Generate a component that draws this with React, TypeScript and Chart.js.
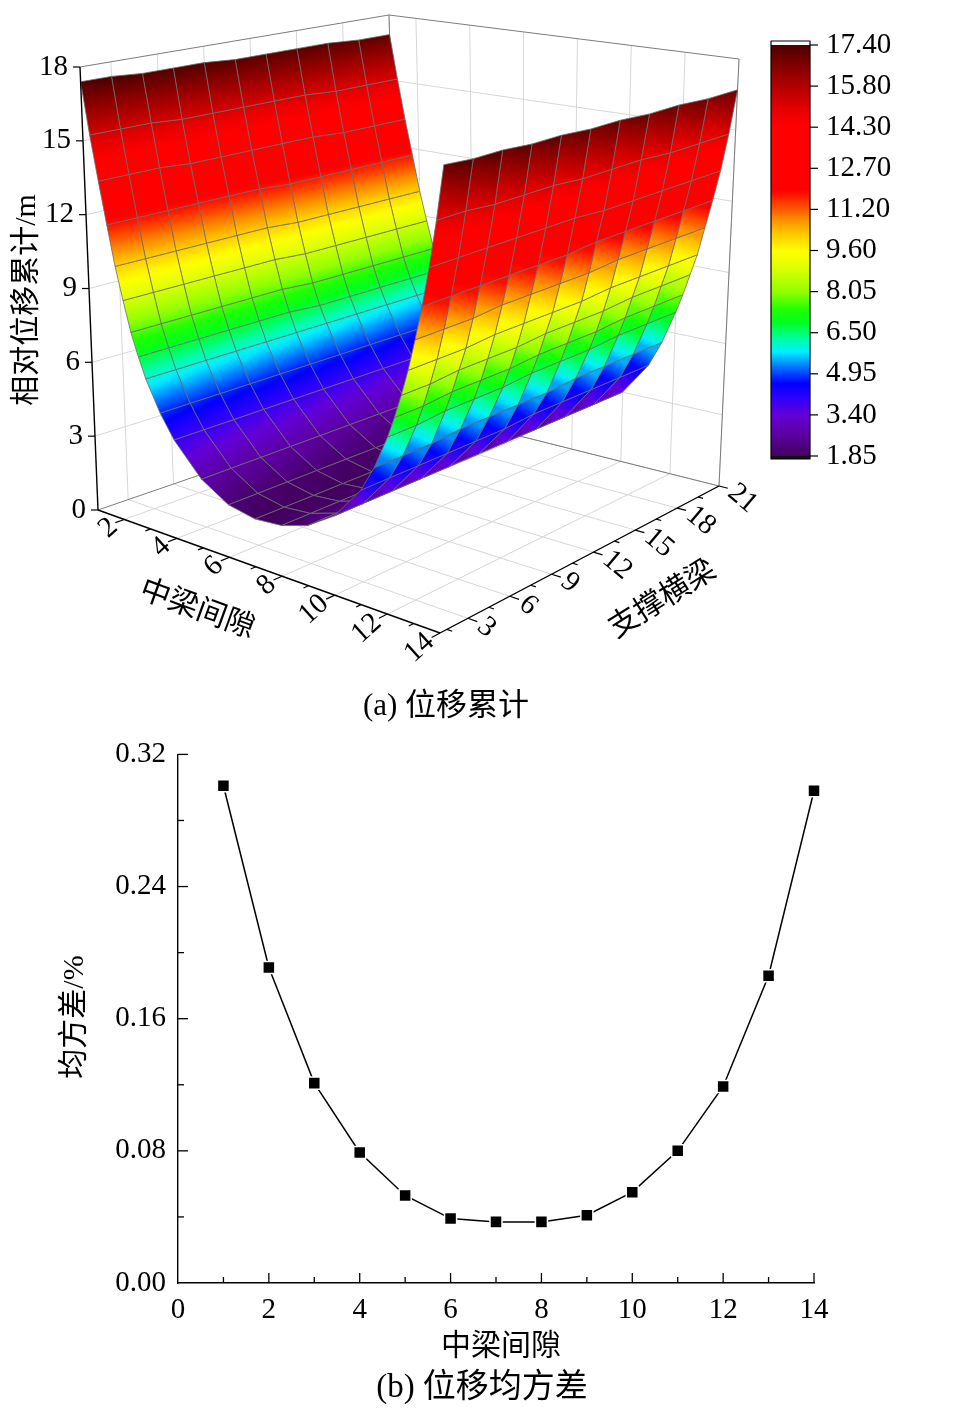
'use client';

import { useEffect, useRef } from 'react';
import Chart from 'chart.js/auto';

document.body.style.margin = '0';

const SERIF = '"Liberation Serif", "Noto Sans CJK SC", serif';
Chart.defaults.font.family = SERIF;
Chart.defaults.color = '#000';

type Pt = [number, number];

// ---------- (a) 位移累计 : surface ----------
const surfaceGaps = [
  1, 1.25, 1.5, 1.75, 2, 2.25, 2.5, 2.75, 3, 3.5, 4, 5, 6, 7, 8, 9, 10, 11, 11.5, 12, 12.25, 12.5, 12.75, 13, 13.25,
  13.5, 13.75, 14,
];
const surfaceBeams = [1, 3, 5, 7, 9, 11, 13, 15, 17, 19, 21];
// one row per beam (surfaceBeams), one value per gap (surfaceGaps)
const displacement = [
  [17.4, 15.3, 13.5, 11.8, 10.2, 8.9, 7.7, 6.8, 6.0, 4.8, 3.9, 2.7, 2.05, 1.85, 1.95, 2.3, 3.0, 4.3, 5.3, 6.6, 7.4, 8.3, 9.3, 10.5, 11.8, 13.3, 15.1, 17.2],
  [17.4, 15.3, 13.5, 11.8, 10.2, 8.9, 7.7, 6.8, 6.0, 4.8, 3.9, 2.7, 2.05, 1.85, 1.95, 2.3, 3.0, 4.3, 5.3, 6.6, 7.4, 8.3, 9.3, 10.5, 11.8, 13.3, 15.1, 17.1],
  [17.3, 15.3, 13.5, 11.8, 10.2, 8.9, 7.7, 6.8, 6.0, 4.8, 3.9, 2.7, 2.05, 1.85, 1.95, 2.3, 3.0, 4.3, 5.3, 6.7, 7.5, 8.4, 9.3, 10.5, 11.8, 13.3, 15.0, 17.1],
  [17.3, 15.2, 13.4, 11.8, 10.2, 8.9, 7.7, 6.8, 6.0, 4.8, 3.9, 2.7, 2.05, 1.85, 1.95, 2.3, 3.0, 4.3, 5.4, 6.7, 7.5, 8.4, 9.4, 10.6, 11.8, 13.3, 15.0, 17.0],
  [17.3, 15.2, 13.4, 11.8, 10.2, 8.9, 7.7, 6.8, 6.0, 4.8, 3.9, 2.7, 2.05, 1.85, 1.95, 2.3, 3.0, 4.3, 5.4, 6.7, 7.5, 8.4, 9.4, 10.6, 11.8, 13.3, 15.0, 17.0],
  [17.2, 15.2, 13.4, 11.8, 10.2, 8.9, 7.7, 6.8, 6.0, 4.8, 3.9, 2.7, 2.05, 1.85, 1.95, 2.3, 3.0, 4.3, 5.4, 6.8, 7.6, 8.5, 9.4, 10.6, 11.8, 13.3, 14.9, 16.9],
  [17.2, 15.2, 13.4, 11.7, 10.1, 8.8, 7.6, 6.7, 6.0, 4.8, 3.9, 2.7, 2.05, 1.85, 1.95, 2.3, 3.0, 4.4, 5.4, 6.8, 7.6, 8.5, 9.4, 10.6, 11.9, 13.2, 14.9, 16.9],
  [17.2, 15.2, 13.4, 11.7, 10.1, 8.8, 7.6, 6.7, 6.0, 4.8, 3.9, 2.7, 2.05, 1.85, 1.95, 2.3, 3.0, 4.4, 5.5, 6.8, 7.6, 8.5, 9.5, 10.7, 11.9, 13.2, 14.9, 16.8],
  [17.2, 15.1, 13.3, 11.7, 10.1, 8.8, 7.6, 6.7, 6.0, 4.8, 3.9, 2.7, 2.05, 1.85, 1.95, 2.3, 3.0, 4.4, 5.5, 6.9, 7.7, 8.6, 9.5, 10.7, 11.9, 13.2, 14.8, 16.8],
  [17.1, 15.1, 13.3, 11.7, 10.1, 8.8, 7.6, 6.7, 6.0, 4.8, 3.9, 2.7, 2.05, 1.85, 1.95, 2.3, 3.0, 4.4, 5.5, 6.9, 7.7, 8.6, 9.5, 10.7, 11.9, 13.2, 14.8, 16.7],
  [17.1, 15.1, 13.3, 11.7, 10.1, 8.8, 7.6, 6.7, 6.0, 4.8, 3.9, 2.7, 2.05, 1.85, 1.95, 2.3, 3.0, 4.4, 5.5, 6.9, 7.7, 8.6, 9.5, 10.7, 11.9, 13.2, 14.8, 16.7],
];

const gapRange = [1, 14];
const beamRange = [1, 21];
const dispRange = [0, 18];
const gapTicks = [2, 4, 6, 8, 10, 12, 14];
const beamTicks = [3, 6, 9, 12, 15, 18, 21];
const dispTicks = [0, 3, 6, 9, 12, 15, 18];
const levelLabels = ['17.40', '15.80', '14.30', '12.70', '11.20', '9.60', '8.05', '6.50', '4.95', '3.40', '1.85'];

// ---------- (b) 位移均方差 ----------
const gapValues = [1, 2, 3, 4, 5, 6, 7, 8, 9, 10, 11, 12, 13, 14];
const stdValues = [0.301, 0.191, 0.121, 0.079, 0.053, 0.039, 0.037, 0.037, 0.041, 0.055, 0.08, 0.119, 0.186, 0.298];

// rainbow colour map (z, r, g, b)
const rampStops: number[][] = [
  [1.85, 66, 0, 94],
  [2.6, 90, 0, 156],
  [3.4, 100, 0, 214],
  [4.1, 42, 0, 255],
  [4.6, 0, 0, 255],
  [5.2, 0, 112, 255],
  [5.8, 0, 240, 255],
  [6.3, 0, 255, 160],
  [6.9, 0, 255, 32],
  [7.4, 32, 255, 0],
  [8.05, 144, 255, 0],
  [9.0, 224, 255, 0],
  [9.6, 255, 255, 0],
  [10.3, 255, 196, 0],
  [10.8, 255, 140, 0],
  [11.3, 255, 74, 0],
  [11.9, 255, 0, 0],
  [14.3, 255, 0, 0],
  [15.0, 228, 0, 0],
  [15.8, 180, 0, 0],
  [16.6, 130, 0, 0],
  [17.4, 76, 0, 0],
];

function rampColor(z: number) {
  const s = rampStops;
  if (z <= s[0][0]) return `rgb(${s[0][1]},${s[0][2]},${s[0][3]})`;
  for (let k = 1; k < s.length; k++) {
    if (z <= s[k][0]) {
      const t = (z - s[k - 1][0]) / (s[k][0] - s[k - 1][0]);
      const c = [1, 2, 3].map((m) => Math.round(s[k - 1][m] + (s[k][m] - s[k - 1][m]) * t));
      return `rgb(${c[0]},${c[1]},${c[2]})`;
    }
  }
  const l = s[s.length - 1];
  return `rgb(${l[1]},${l[2]},${l[3]})`;
}

// where the 3D box sits on the page: floor / top corners at
// (gap min, beam min), (gap max, beam min), (gap max, beam max), (gap min, beam max)
const floorCorners: Pt[] = [[98, 510], [440, 633], [719, 486], [400, 406]];
const topCorners: Pt[] = [[80, 67], [444, 143], [739, 59], [389, 15]];

function bilerp(c: Pt[], u: number, v: number): Pt {
  const wa = (1 - u) * (1 - v);
  const wb = u * (1 - v);
  const wc = u * v;
  const wd = (1 - u) * v;
  return [
    c[0][0] * wa + c[1][0] * wb + c[2][0] * wc + c[3][0] * wd,
    c[0][1] * wa + c[1][1] * wb + c[2][1] * wc + c[3][1] * wd,
  ];
}

function toView(gap: number, beam: number, disp: number): Pt {
  const u = (gap - gapRange[0]) / (gapRange[1] - gapRange[0]);
  const v = (beam - beamRange[0]) / (beamRange[1] - beamRange[0]);
  const w = (disp - dispRange[0]) / (dispRange[1] - dispRange[0]);
  const f = bilerp(floorCorners, u, v);
  const t = bilerp(topCorners, u, v);
  return [f[0] + (t[0] - f[0]) * w, f[1] + (t[1] - f[1]) * w];
}

const surfacePlugin = {
  id: 'surface3d',
  afterDraw(chart: any) {
    const ctx: CanvasRenderingContext2D = chart.ctx;
    const sx = chart.scales.x;
    const sy = chart.scales.y;
    const px = (p: Pt): Pt => [sx.getPixelForValue(p[0]), sy.getPixelForValue(p[1])];
    const at = (g: number, b: number, z: number) => px(toView(g, b, z));
    const seg = (a: Pt, b: Pt) => {
      ctx.beginPath();
      ctx.moveTo(a[0], a[1]);
      ctx.lineTo(b[0], b[1]);
      ctx.stroke();
    };
    const label = (s: string, p: Pt, deg: number, align: CanvasTextAlign, size: number) => {
      ctx.save();
      ctx.translate(p[0], p[1]);
      ctx.rotate((deg * Math.PI) / 180);
      ctx.font = `${size}px ${SERIF}`;
      ctx.textAlign = align;
      ctx.textBaseline = 'middle';
      ctx.fillStyle = '#000';
      ctx.fillText(s, 0, 0);
      ctx.restore();
    };
    const [g0, g1] = gapRange;
    const [b0, b1] = beamRange;
    const [z0, z1] = dispRange;

    ctx.save();

    // wall and floor grid
    ctx.strokeStyle = '#d6d6d6';
    ctx.lineWidth = 1;
    gapTicks.forEach((g) => {
      seg(at(g, b0, z0), at(g, b1, z0));
      seg(at(g, b1, z0), at(g, b1, z1));
    });
    beamTicks.forEach((b) => {
      seg(at(g0, b, z0), at(g1, b, z0));
      seg(at(g0, b, z0), at(g0, b, z1));
    });
    dispTicks.forEach((z) => {
      if (z > z0 && z < z1) {
        seg(at(g0, b0, z), at(g0, b1, z));
        seg(at(g0, b1, z), at(g1, b1, z));
      }
    });

    // back box edges
    ctx.strokeStyle = '#7c7c7c';
    seg(at(g0, b0, z1), at(g0, b1, z1));
    seg(at(g0, b1, z1), at(g1, b1, z1));
    seg(at(g0, b1, z0), at(g0, b1, z1));
    seg(at(g1, b1, z0), at(g1, b1, z1));
    seg(at(g0, b0, z0), at(g0, b1, z0));
    seg(at(g0, b1, z0), at(g1, b1, z0));

    // surface cells, far to near
    const cells: { pts: Pt[]; zs: number[]; depth: number }[] = [];
    for (let j = 0; j < surfaceBeams.length - 1; j++) {
      for (let i = 0; i < surfaceGaps.length - 1; i++) {
        const idx = [[i, j], [i + 1, j], [i + 1, j + 1], [i, j + 1]];
        const zs = idx.map(([a, b]) => displacement[b][a]);
        const pts = idx.map(([a, b]) => at(surfaceGaps[a], surfaceBeams[b], displacement[b][a]));
        const u = ((surfaceGaps[i] + surfaceGaps[i + 1]) / 2 - g0) / (g1 - g0);
        const v = ((surfaceBeams[j] + surfaceBeams[j + 1]) / 2 - b0) / (b1 - b0);
        const w = (zs.reduce((s, z) => s + z, 0) / 4 - z0) / (z1 - z0);
        cells.push({ pts, zs, depth: 0.569 * u - 0.698 * v + 0.49 * w });
      }
    }
    cells.sort((a, b) => a.depth - b.depth);
    ctx.strokeStyle = '#6b6b6b';
    ctx.lineWidth = 0.8;
    ctx.lineJoin = 'round';
    cells.forEach(({ pts, zs }) => {
      ctx.beginPath();
      ctx.moveTo(pts[0][0], pts[0][1]);
      for (let k = 1; k < 4; k++) ctx.lineTo(pts[k][0], pts[k][1]);
      ctx.closePath();
      const a: Pt = [(pts[0][0] + pts[3][0]) / 2, (pts[0][1] + pts[3][1]) / 2];
      const b: Pt = [(pts[1][0] + pts[2][0]) / 2, (pts[1][1] + pts[2][1]) / 2];
      const za = (zs[0] + zs[3]) / 2;
      const zb = (zs[1] + zs[2]) / 2;
      if (Math.hypot(b[0] - a[0], b[1] - a[1]) > 0.5) {
        const grad = ctx.createLinearGradient(a[0], a[1], b[0], b[1]);
        for (let k = 0; k <= 8; k++) grad.addColorStop(k / 8, rampColor(za + ((zb - za) * k) / 8));
        ctx.fillStyle = grad;
      } else {
        ctx.fillStyle = rampColor((za + zb) / 2);
      }
      ctx.fill();
      ctx.stroke();
    });

    // front axes
    ctx.strokeStyle = '#000';
    ctx.lineWidth = 1.4;
    seg(at(g0, b0, z0), at(g1, b0, z0));
    seg(at(g1, b0, z0), at(g1, b1, z0));
    seg(at(g0, b0, z0), at(g0, b0, z1));
    ctx.lineWidth = 1.2;
    for (let g = g0 + 1; g <= g1; g += 1) {
      const len = g % 2 === 0 ? 0.6 : 0.35;
      seg(at(g, b0, z0), at(g, b0 - len, z0));
    }
    for (let b = b0 + 0.5; b <= b1; b += 1.5) {
      const len = b % 3 === 0 ? 0.36 : 0.2;
      seg(at(g1, b, z0), at(g1 + len, b, z0));
    }
    dispTicks.forEach((z) => {
      const p = at(g0, b0, z);
      seg(p, [p[0] - 7, p[1]]);
    });

    gapTicks.forEach((g) => label(String(g), at(g, b0 - 0.7, z0), -42, 'right', 29));
    beamTicks.forEach((b) => label(String(b), at(g1 + 0.5, b, z0), 40, 'left', 29));
    dispTicks.forEach((z) => {
      const p = at(g0, b0, z);
      label(String(z), [p[0] - 12, p[1]], 0, 'right', 29);
    });

    label('中梁间隙', px([197, 610]), 20, 'center', 30);
    label('支撑横梁', px([663, 600]), -32, 'center', 30);
    label('相对位移累计/m', px([27, 300]), -90, 'center', 30);
    label('(a) 位移累计', px([446, 707]), 0, 'center', 31);

    // colour scale
    const barL = 771;
    const barR = 810;
    const barTop = 41;
    const zTopY = 45;
    const zBotY = 456;
    const barBot = 459;
    const zMax = parseFloat(levelLabels[0]);
    const zMin = parseFloat(levelLabels[levelLabels.length - 1]);
    for (let y = zTopY; y < zBotY; y += 1) {
      const z = zMax - ((y + 0.5 - zTopY) / (zBotY - zTopY)) * (zMax - zMin);
      const p = px([barL, y]);
      const q = px([barR, y + 1]);
      ctx.fillStyle = rampColor(z);
      ctx.fillRect(p[0], p[1], q[0] - p[0], q[1] - p[1] + 0.5);
    }
    {
      const p = px([barL, barTop]);
      const q = px([barR, zTopY]);
      ctx.fillStyle = '#fff';
      ctx.fillRect(p[0], p[1], q[0] - p[0], q[1] - p[1]);
      const r = px([barL, zBotY]);
      const s = px([barR, barBot]);
      ctx.fillStyle = '#111';
      ctx.fillRect(r[0], r[1], s[0] - r[0], s[1] - r[1]);
      const o = px([barL, barTop]);
      const e = px([barR, barBot]);
      ctx.strokeStyle = '#000';
      ctx.lineWidth = 1.2;
      ctx.strokeRect(o[0], o[1], e[0] - o[0], e[1] - o[1]);
    }
    levelLabels.forEach((s, i) => {
      const y = zTopY + (i * (zBotY - zTopY)) / (levelLabels.length - 1);
      seg(px([barR, y]), px([barR + 8, y]));
      label(s, px([826, y]), 0, 'left', 29);
    });

    ctx.restore();
  },
};

const stdPlugin = {
  id: 'stdDecor',
  afterDraw(chart: any) {
    const ctx: CanvasRenderingContext2D = chart.ctx;
    const { x, y } = chart.scales;
    ctx.save();
    ctx.strokeStyle = '#000';
    ctx.lineWidth = 1.3;
    for (let g = 1; g <= 14; g++) {
      const p = x.getPixelForValue(g);
      const len = g % 2 === 0 ? 10 : 6;
      ctx.beginPath();
      ctx.moveTo(p, y.bottom);
      ctx.lineTo(p, y.bottom - len);
      ctx.stroke();
    }
    for (let k = 1; k <= 8; k++) {
      const p = y.getPixelForValue(k * 0.04);
      const len = k % 2 === 0 ? 10 : 6;
      ctx.beginPath();
      ctx.moveTo(x.left, p);
      ctx.lineTo(x.left + len, p);
      ctx.stroke();
    }
    ctx.fillStyle = '#000';
    ctx.textAlign = 'center';
    ctx.textBaseline = 'middle';
    ctx.font = `30px ${SERIF}`;
    ctx.fillText('中梁间隙', 501, 622);
    ctx.font = `33px ${SERIF}`;
    ctx.fillText('(b) 位移均方差', 482, 663);
    ctx.translate(75, 292);
    ctx.rotate(-Math.PI / 2);
    ctx.font = `30px ${SERIF}`;
    ctx.fillText('均方差/%', 0, 0);
    ctx.restore();
  },
};

function SurfacePanel() {
  const canvasRef = useRef<HTMLCanvasElement | null>(null);
  const chartRef = useRef<Chart | null>(null);

  useEffect(() => {
    if (!canvasRef.current) return;
    if (chartRef.current) chartRef.current.destroy();
    chartRef.current = new Chart(canvasRef.current, {
      type: 'scatter',
      data: { datasets: [{ data: [], pointRadius: 0 }] },
      options: {
        animation: false,
        responsive: false,
        layout: { padding: 0 },
        plugins: { legend: { display: false }, tooltip: { enabled: false } },
        scales: {
          x: { type: 'linear', min: 0, max: 954, display: false },
          y: { type: 'linear', min: 0, max: 725, reverse: true, display: false },
        },
      },
      plugins: [surfacePlugin],
    });
    return () => {
      if (chartRef.current) {
        chartRef.current.destroy();
        chartRef.current = null;
      }
    };
  }, []);

  return <canvas ref={canvasRef} width={954} height={725} style={{ display: 'block' }} />;
}

function StdPanel() {
  const canvasRef = useRef<HTMLCanvasElement | null>(null);
  const chartRef = useRef<Chart | null>(null);

  useEffect(() => {
    if (!canvasRef.current) return;
    if (chartRef.current) chartRef.current.destroy();
    const tickFont = { family: SERIF, size: 29 };
    chartRef.current = new Chart(canvasRef.current, {
      type: 'line',
      data: {
        datasets: [
          {
            data: gapValues.map((g, i) => ({ x: g, y: stdValues[i] })),
            borderColor: '#000',
            borderWidth: 1.5,
            pointStyle: 'rect',
            pointRadius: 8.5,
            pointBackgroundColor: '#000',
            pointBorderColor: '#fff',
            pointBorderWidth: 1.5,
            tension: 0,
            clip: false,
          },
        ],
      },
      options: {
        animation: false,
        responsive: false,
        layout: { padding: { left: 0, right: 140, top: 24, bottom: 0 } },
        plugins: { legend: { display: false }, tooltip: { enabled: false } },
        scales: {
          x: {
            type: 'linear',
            min: 0,
            max: 14,
            ticks: { stepSize: 2, font: tickFont, color: '#000', padding: 10, maxRotation: 0 },
            grid: { display: false, drawTicks: false },
            border: { display: true, color: '#000', width: 1.4 },
            afterFit: (s: any) => {
              s.height = 133;
            },
          },
          y: {
            type: 'linear',
            min: 0,
            max: 0.32,
            ticks: {
              stepSize: 0.08,
              font: tickFont,
              color: '#000',
              padding: 12,
              callback: (v: any) => Number(v).toFixed(2),
            },
            grid: { display: false, drawTicks: false },
            border: { display: true, color: '#000', width: 1.4 },
            afterFit: (s: any) => {
              s.width = 178;
            },
          },
        },
      },
      plugins: [stdPlugin],
    });
    return () => {
      if (chartRef.current) {
        chartRef.current.destroy();
        chartRef.current = null;
      }
    };
  }, []);

  return <canvas ref={canvasRef} width={954} height={691} style={{ display: 'block' }} />;
}

export default function App() {
  return (
    <div style={{ width: 954, background: '#fff' }}>
      <SurfacePanel />
      <StdPanel />
    </div>
  );
}
